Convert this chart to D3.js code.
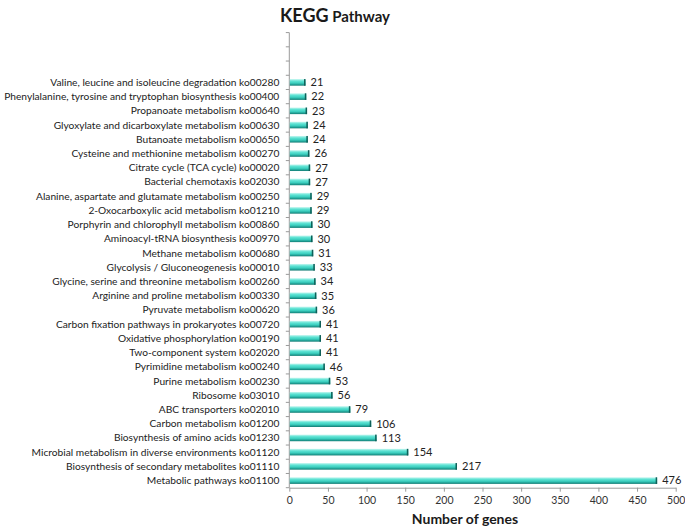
<!DOCTYPE html>
<html><head><meta charset="utf-8">
<script src="https://cdn.jsdelivr.net/npm/d3@7"></script>
<style>body{margin:0;background:#fff;}svg{display:block;}</style>
</head><body><svg id="c" width="685" height="528"></svg>
<script>
const categories = [
  "Metabolic pathways ko01100",
  "Biosynthesis of secondary metabolites ko01110",
  "Microbial metabolism in diverse environments ko01120",
  "Biosynthesis of amino acids ko01230",
  "Carbon metabolism ko01200",
  "ABC transporters ko02010",
  "Ribosome ko03010",
  "Purine metabolism ko00230",
  "Pyrimidine metabolism ko00240",
  "Two-component system ko02020",
  "Oxidative phosphorylation ko00190",
  "Carbon fixation pathways in prokaryotes ko00720",
  "Pyruvate metabolism ko00620",
  "Arginine and proline metabolism ko00330",
  "Glycine, serine and threonine metabolism ko00260",
  "Glycolysis / Gluconeogenesis ko00010",
  "Methane metabolism ko00680",
  "Aminoacyl-tRNA biosynthesis ko00970",
  "Porphyrin and chlorophyll metabolism ko00860",
  "2-Oxocarboxylic acid metabolism ko01210",
  "Alanine, aspartate and glutamate metabolism ko00250",
  "Bacterial chemotaxis ko02030",
  "Citrate cycle  (TCA cycle) ko00020",
  "Cysteine and methionine metabolism ko00270",
  "Butanoate metabolism ko00650",
  "Glyoxylate and dicarboxylate metabolism ko00630",
  "Propanoate metabolism ko00640",
  "Phenylalanine, tyrosine and tryptophan biosynthesis ko00400",
  "Valine, leucine and isoleucine degradation ko00280",
  "", ""
];
const values = [476,217,154,113,106,79,56,53,46,41,41,41,36,35,34,33,31,30,30,29,29,27,27,26,24,24,23,22,21];
const xTicks = [0,50,100,150,200,250,300,350,400,450,500];
const title1 = "KEGG", title2 = " Pathway";
const xTitle = "Number of genes";

const svg = d3.select("#c");
const font = "Lato, 'Open Sans', sans-serif";
const x0 = 289.3, x1 = 675.7, yTop = 32.6, yBot = 487.7;
const x = d3.scaleLinear().domain([0,500]).range([x0,x1]);
const y = d3.scaleBand().domain(d3.range(categories.length + 1)).range([yBot,yTop]).paddingInner(0).paddingOuter(0);

const defs = svg.append("defs");
const g = defs.append("linearGradient").attr("id","bg").attr("x1",0).attr("y1",0).attr("x2",0).attr("y2",1);
[[0,"#c8f7f1"],[0.3,"#5fe3d4"],[0.6,"#3ccfbf"],[0.85,"#1f9d92"],[1,"#137a72"]].forEach(s=>g.append("stop").attr("offset",s[0]).attr("stop-color",s[1]));

// title
const t = svg.append("text").attr("x",335).attr("y",22).attr("text-anchor","middle")
  .attr("font-family",font).attr("font-weight","bold").attr("fill","#1a1a1a");
t.append("tspan").attr("font-size",18).text(title1);
t.append("tspan").attr("font-size",15).text(title2);

// y axis with ticks at band boundaries
const ya = svg.append("g");
ya.append("line").attr("x1",x0).attr("x2",x0).attr("y1",yTop).attr("y2",yBot).attr("stroke","#9a9a9a");
ya.selectAll("line.t").data(y.domain().concat([y.domain().length])).join("line").attr("class","t")
  .attr("x1",x0-3.5).attr("x2",x0)
  .attr("y1",i=>yBot - i*y.bandwidth()).attr("y2",i=>yBot - i*y.bandwidth()).attr("stroke","#9a9a9a");

// x axis
const xa = svg.append("g").attr("transform",`translate(0,${yBot})`)
  .call(d3.axisBottom(x).tickValues(xTicks).tickSize(4).tickSizeOuter(0).tickPadding(5));
xa.select(".domain").attr("stroke","#9a9a9a");
xa.selectAll(".tick line").attr("stroke","#9a9a9a");
xa.selectAll("text").attr("font-family",font).attr("font-size",10.5).attr("fill","#333");

// category labels
svg.append("g").selectAll("text").data(categories.slice(0,values.length)).join("text")
  .attr("x",x0-10).attr("y",(d,i)=>y(i)+y.bandwidth()/2).attr("dy","0.35em")
  .attr("text-anchor","end").attr("font-family",font).attr("font-size",10.2).attr("fill","#222")
  .text(d=>d);

// bars
const bh = 6.6;
const bars = svg.append("g");
bars.selectAll("rect.b").data(values).join("rect").attr("class","b")
  .attr("x",x0+0.5).attr("y",(d,i)=>y(i)+y.bandwidth()/2-bh/2)
  .attr("width",d=>x(d)-x0-0.5).attr("height",bh).attr("fill","url(#bg)");
bars.selectAll("rect.cap").data(values).join("rect").attr("class","cap")
  .attr("x",d=>x(d)-1.5).attr("y",(d,i)=>y(i)+y.bandwidth()/2-bh/2)
  .attr("width",1.5).attr("height",bh).attr("fill","#0f5f58");

// value labels
svg.append("g").selectAll("text").data(values).join("text")
  .attr("x",d=>x(d)+5).attr("y",(d,i)=>y(i)+y.bandwidth()/2).attr("dy","0.35em")
  .attr("font-family",font).attr("font-size",11).attr("fill","#222").text(d=>d);

// x title
svg.append("text").attr("x",465).attr("y",524).attr("text-anchor","middle")
  .attr("font-family",font).attr("font-weight","bold").attr("font-size",14).attr("fill","#1a1a1a").text(xTitle);
</script></body></html>
